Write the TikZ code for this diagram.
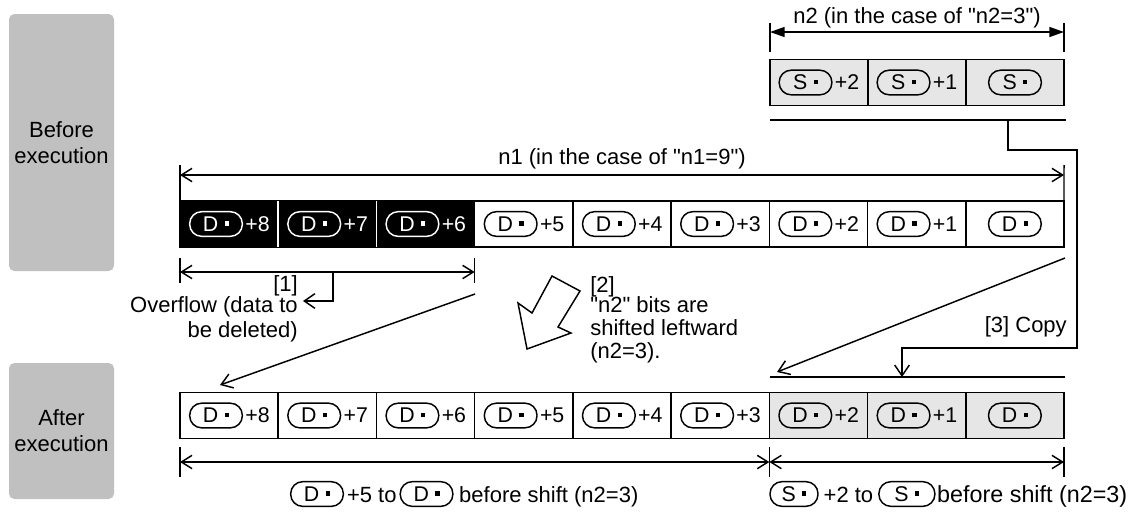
\documentclass[tikz,border=0pt]{standalone}
\usepackage{fontspec}
\setmainfont{Liberation Sans}[Ligatures=TeXOff]
\usetikzlibrary{arrows.meta}
\definecolor{boxgray}{HTML}{C0C0C0}
\definecolor{cellgray}{HTML}{E6E6E6}
\newcommand\dotsq{\hspace{0.3em}\raisebox{0.27em}{\rule{0.2em}{0.2em}}}
\tikzset{
  lbl/.style={font=\fontsize{16.5}{18.75}\selectfont, inner sep=0pt},
  celltxt/.style={font=\fontsize{16}{18}\selectfont, inner sep=0pt},
  oval/.style={rectangle, rounded corners=9pt, draw, line width=1.1pt, minimum width=39.5pt, minimum height=18.5pt, inner sep=0pt, font=\fontsize{16}{18}\selectfont},
  cellbox/.style={draw, line width=1.1pt, minimum width=73.665pt, minimum height=34.5pt, inner sep=0pt, outer sep=0pt},
  sidebox/.style={fill=boxgray, rounded corners=4pt, align=center, inner sep=0pt, font=\fontsize{16.5}{19.5}\selectfont},
  ln/.style={line width=1.1pt},
  dimarrow/.style={line width=1.1pt, {Straight Barb[length=8pt,width=10pt]}-{Straight Barb[length=8pt,width=10pt]}},
  openarrow/.style={line width=1.1pt, -{Straight Barb[length=8pt,width=11pt]}},
  n2arrow/.style={line width=1.1pt, {Triangle[length=11pt,width=7.5pt]}-{Triangle[length=11pt,width=7.5pt]}}
}
\begin{document}
\begin{tikzpicture}[x=0.75pt,y=-0.75pt]
\useasboundingbox (0,0) rectangle (1130,511);

% side labels
\node[sidebox, minimum width=78.75pt, minimum height=192.75pt] (before) at (61.5,142.5) {Before\\execution};
\node[sidebox, minimum width=78.75pt, minimum height=102pt] (after) at (61.5,431) {After\\execution};

% S row
\foreach \j in {0,1,2}{
  \pgfmathsetmacro{\xl}{770+98*\j}
  \pgfmathtruncatemacro{\k}{2-\j}
  \node[cellbox, fill=cellgray, minimum width=73.5pt] (s\j) at ({\xl+49},82.5) {};
  \ifnum\k>0
    \node[oval] (so\j) at ({\xl+35.5},82.5) {S\dotsq};
    \node[celltxt, anchor=west] (ss\j) at ([xshift=1.5pt]so\j.east) {+\k};
  \else
    \node[oval] (so\j) at ({\xl+49},82.5) {S\dotsq};
  \fi
}

% before row
\foreach \i in {0,...,8}{
  \pgfmathsetmacro{\xl}{180+98.22*\i}
  \pgfmathtruncatemacro{\k}{8-\i}
  \ifnum\i<3 \def\cf{black}\def\tc{white}\else\def\cf{white}\def\tc{black}\fi
  \node[cellbox, fill=\cf] (b\i) at ({\xl+49.11},224) {};
  \ifnum\k>0
    \node[oval, draw=\tc, text=\tc] (bo\i) at ({\xl+36},224) {D\dotsq};
    \node[celltxt, text=\tc, anchor=west] (bs\i) at ([xshift=1.5pt]bo\i.east) {+\k};
  \else
    \node[oval, draw=\tc, text=\tc] (bo\i) at ({\xl+49.11},224) {D\dotsq};
  \fi
}
\draw[ln, white] (b0.north east) -- (b0.south east);
\draw[ln, white] (b1.north east) -- (b1.south east);

% after row
\foreach \i in {0,...,8}{
  \pgfmathsetmacro{\xl}{180+98.22*\i}
  \pgfmathtruncatemacro{\k}{8-\i}
  \ifnum\i<6 \def\cf{white}\else\def\cf{cellgray}\fi
  \node[cellbox, fill=\cf] (a\i) at ({\xl+49.11},415.5) {};
  \ifnum\k>0
    \node[oval] (ao\i) at ({\xl+36},415.5) {D\dotsq};
    \node[celltxt, anchor=west] (as\i) at ([xshift=1.5pt]ao\i.east) {+\k};
  \else
    \node[oval] (ao\i) at ({\xl+49.11},415.5) {D\dotsq};
  \fi
}

% n2 dimension
\coordinate (n2a) at (770,23); \coordinate (n2b) at (770,52);
\coordinate (n2c) at (1064,23); \coordinate (n2d) at (1064,52);
\coordinate (n2l) at (770,32); \coordinate (n2r) at (1064,32);
\draw[ln] (n2a) -- (n2b);
\draw[ln] (n2c) -- (n2d);
\draw[n2arrow] (n2l) -- (n2r);
\node[lbl, anchor=base] (n2lab) at (917,23) {n2 (in the case of "n2=3")};

% n1 dimension
\coordinate (n1a) at (180,165); \coordinate (n1c) at (1064,165);
\coordinate (n1l) at (180,175); \coordinate (n1r) at (1064,175);
\draw[ln] (n1a) -- (b0.north west);
\draw[ln] (n1c) -- (b8.north east);
\draw[dimarrow] (n1l) -- (n1r);
\node[lbl, anchor=base] (n1lab) at (622,164) {n1 (in the case of "n1=9")};

% overflow dimension
\coordinate (o1) at (180,258); \coordinate (o2) at (180,283);
\coordinate (o3) at (474.66,258); \coordinate (o4) at (474.66,283);
\coordinate (ol) at (180,272); \coordinate (or) at (474.66,272);
\coordinate (om) at (333,272); \coordinate (oe) at (303,301);
\draw[ln] (o1) -- (o2);
\draw[ln] (o3) -- (o4);
\draw[dimarrow] (ol) -- (or);
\draw[openarrow] (om) |- (oe);
\node[lbl, anchor=base east] (t1) at (298,291) {[1]};
\node[lbl, anchor=base east, align=right] (ovf) at (298,337) {Overflow (data to\\be deleted)};

% shift arrows
\coordinate (sa1) at (475,294); \coordinate (sa2) at (220,385);
\draw[openarrow] (sa1) -- (sa2);
\coordinate (sb1) at (1065,258); \coordinate (sb2) at (777,372);
\draw[openarrow] (sb1) -- (sb2);

% big hollow arrow [2]
\draw[ln, fill=white] (552,276) -- (580,291) -- (558,327) -- (571,333) -- (527,349) -- (518,303) -- (532,313) -- cycle;
\node[lbl, anchor=base west] (t2) at (590,292) {[2]};
\node[anchor=base west, align=left, inner sep=0pt, font=\fontsize{16.5}{17.25}\selectfont] (t2b) at (590,358) {"n2" bits are\\shifted leftward\\(n2=3).};

% copy path
\coordinate (u1) at (770,120); \coordinate (u2) at (1066,120);
\draw[ln] (u1) -- (u2);
\coordinate (c0) at (1008,120); \coordinate (c1) at (1008,150);
\coordinate (c2) at (1077,150); \coordinate (c3) at (1077,348);
\coordinate (c4) at (902,348); \coordinate (c5) at (902,377);
\draw[openarrow] (c0) -- (c1) -- (c2) -- (c3) -- (c4) -- (c5);
\coordinate (v1) at (770,377); \coordinate (v2) at (1065,377);
\draw[ln] (v1) -- (v2);
\node[lbl, anchor=base east] (t3) at (1067,332) {[3] Copy};

% bottom dimensions
\coordinate (d1) at (180,447); \coordinate (d2) at (180,477);
\coordinate (d3) at (769.32,447); \coordinate (d4) at (769.32,477);
\coordinate (d5) at (1064,447); \coordinate (d6) at (1064,477);
\coordinate (dl) at (180,462); \coordinate (dm) at (769.32,462); \coordinate (dr) at (1064,462);
\draw[ln] (d1) -- (d2);
\draw[ln] (d3) -- (d4);
\draw[ln] (d5) -- (d6);
\draw[dimarrow] (dl) -- (dm);
\draw[dimarrow] (dm) -- (dr);

% bottom labels
\coordinate (bl) at (0,502);
\node[oval] (l1) at (317,494) {D\dotsq};
\node[lbl, anchor=base west, inner xsep=2pt] (l2) at (l1.east |- bl) {+5 to};
\node[oval, anchor=west] (l3) at (l2.east |- l1) {D\dotsq};
\node[lbl, anchor=base west, inner xsep=4pt] (l4) at (l3.east |- bl) {before shift (n2=3)};
\node[oval, minimum width=36pt] (r1) at (794,494) {S\dotsq};
\node[lbl, anchor=base west, inner xsep=3.5pt] (r2) at (r1.east |- bl) {+2 to};
\node[oval, anchor=west, minimum width=42pt] (r3) at (r2.east |- r1) {S\dotsq};
\node[anchor=base west, inner sep=0pt, inner xsep=1pt, font=\fontsize{17.5}{18.75}\selectfont] (r4) at (r3.east |- bl) {before shift (n2=3)};
\end{tikzpicture}
\end{document}
